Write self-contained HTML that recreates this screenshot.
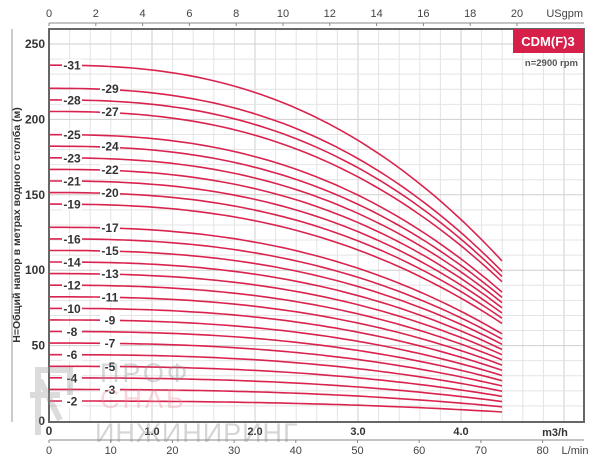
<!DOCTYPE html>
<html><head><meta charset="utf-8"><style>
html,body{margin:0;padding:0;background:#fff}
svg text{font-family:"Liberation Sans","DejaVu Sans",sans-serif}
</style></head><body>
<svg id="s" width="600" height="457" viewBox="0 0 600 457" xmlns="http://www.w3.org/2000/svg">
<rect width="600" height="457" fill="#fff"/>
<g id="grid" stroke="#e2e2e2" stroke-width="1"></g>
<g id="curves" fill="none" stroke="#d9234f" stroke-width="1.6"></g>
<g id="labels" font-size="12" font-weight="bold" fill="#333"></g>
<rect x="49" y="29" width="535" height="393" fill="none" stroke="#666" stroke-width="2"/>
<line x1="12" y1="29" x2="12" y2="422" stroke="#999" stroke-width="1"/>
<line x1="49" y1="23" x2="584" y2="23" stroke="#888" stroke-width="1"/>
<line x1="49" y1="440" x2="584" y2="440" stroke="#888" stroke-width="1"/>
<g id="axes" font-size="11" fill="#444"></g>
<rect x="513" y="29" width="71" height="24" fill="#d6204a"/>
<text x="548" y="46" font-size="13" font-weight="bold" fill="#fff" text-anchor="middle">CDM(F)3</text>
<text x="578" y="66" font-size="9.5" font-weight="bold" fill="#555" text-anchor="end">n=2900 rpm</text>
<text transform="translate(20,225) rotate(-90)" font-size="10.5" font-weight="bold" fill="#333" text-anchor="middle">H=Общий напор в метрах водного столба (м)</text>
<text x="555" y="436" font-size="11" font-weight="bold" fill="#333" text-anchor="middle">m3/h</text>
<text x="575" y="454" font-size="11" fill="#444" text-anchor="middle">L/min</text>
<g opacity="0.35" font-size="27">
<text x="100" y="382" fill="#888" letter-spacing="3">ПРОФ</text>
<text x="100" y="408" fill="#f08a9a" letter-spacing="3">СНАБ</text>
<text x="95" y="442" fill="#888" letter-spacing="1">ИНЖИНИРИНГ</text>
<path d="M38 435 V370 H70 V395 M30 395 H60 M40 380 L60 420" fill="none" stroke="#999" stroke-width="6"/>
</g>
</svg>
<script>
var ns="http://www.w3.org/2000/svg";
function el(p,t,a,txt){var e=document.createElementNS(ns,t);for(var k in a)e.setAttribute(k,a[k]);if(txt!==undefined)e.textContent=txt;document.getElementById(p).appendChild(e);return e;}
var X0=49,X1=584,Y0=422,Y1=29;
for(var x=X0+20.6;x<X1-2;x+=20.6){var thick=(Math.round((x-X0)/20.6)%5==0);el("grid","line",{x1:x,y1:Y1,x2:x,y2:Y0,stroke:thick?"#cfcfcf":"#e4e4e4"});}
for(var v=10;v<=260;v+=10){var y=421-v*1.508;if(y<Y1)break;el("grid","line",{x1:X0,y1:y,x2:X1,y2:y,stroke:(v%50==0)?"#cfcfcf":"#e4e4e4"});}
for(var v=0;v<=250;v+=50){el("axes","text",{x:45,y:421-v*1.508+4,"text-anchor":"end","font-weight":"bold","font-size":"12",fill:"#333"},v);}
for(var g=0;g<=20;g+=2){var x=49+g*23.4;el("axes","line",{x1:x,y1:23,x2:x,y2:26,stroke:"#888"});el("axes","text",{x:x,y:17,"text-anchor":"middle"},g);}
el("axes","text",{x:583,y:17,"text-anchor":"end"},"USgpm");
for(var l=0;l<=80;l+=10){var x=49+l*6.17;el("axes","line",{x1:x,y1:440,x2:x,y2:443,stroke:"#888"});el("axes","text",{x:x,y:454,"text-anchor":"middle"},l);}
el("axes","text",{x:49,y:435,"text-anchor":"middle","font-weight":"bold","font-size":"12",fill:"#333"},"0");
for(var m=1;m<=4;m++){el("axes","text",{x:49+m*103,y:435,"text-anchor":"middle","font-weight":"bold",fill:"#333"},m+".0");}
var stages=[31,29,28,27,25,24,23,22,21,20,19,17,16,15,14,13,12,11,10,9,8,7,6,5,4,3,2];
var right={29:1,27:1,24:1,22:1,20:1,17:1,15:1,13:1,11:1,9:1,7:1,5:1,3:1};
stages.forEach(function(n){
  var h0=20+(n-2)*11.58;var d="";
  for(var i=0;i<=60;i++){var t=i/60;var x=49+t*453;var h=h0*(1-0.55*Math.pow(t,2.5));d+=(i?"L":"M")+x.toFixed(1)+" "+(421-h).toFixed(1);}
  el("curves","path",{d:d});
  var cx=right[n]?110:72;var y=421-h0;
  el("labels","rect",{x:cx-10,y:y-6,width:20,height:12,fill:"#fff"});
  el("labels","text",{x:cx,y:y+4.5,"text-anchor":"middle"},"-"+n);
});
</script>
</body></html>
